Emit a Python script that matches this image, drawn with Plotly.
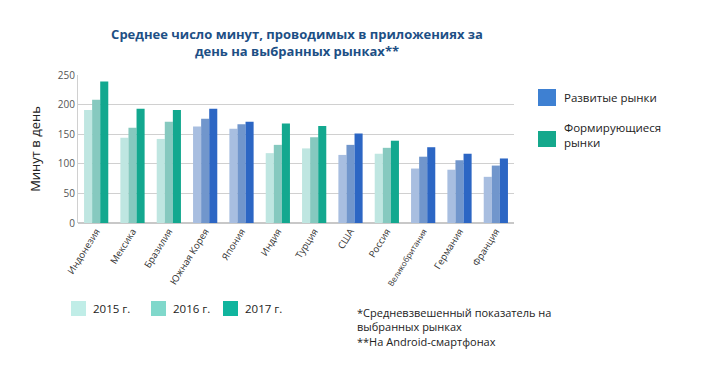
import plotly.graph_objects as go

countries = ["Индонезия", "Мексика", "Бразилия", "Южная Корея", "Япония", "Индия",
             "Турция", "США", "Россия", "Великобритания", "Германия", "Франция"]
market_type = ["em", "em", "em", "dev", "dev", "em", "em", "dev", "em", "dev", "dev", "dev"]
v2015 = [191, 144, 142, 163, 159, 118, 126, 115, 117, 92, 90, 78]
v2016 = [208, 161, 171, 176, 167, 132, 145, 132, 127, 112, 106, 97]
v2017 = [239, 193, 191, 193, 171, 168, 164, 151, 139, 128, 117, 109]
years = ["2015 г.", "2016 г.", "2017 г."]
market_labels = ["Развитые рынки", "Формирующиеся<br>рынки"]
y_ticks = [0, 50, 100, 150, 200, 250]

em_colors = ["#bfe6e1", "#86c9bf", "#13a88f"]
dev_colors = ["#a8bee0", "#7196cc", "#2c66c4"]
year_legend_colors = ["#c0ede7", "#80d8cb", "#10b59e"]
market_legend_colors = ["#3e80d2", "#15a88c"]

FONT = "Open Sans"
# page body has an 8px default margin: figure is 700x381 placed at (8, 8)
W, H = 700, 381
PL, PT, PR, PB = 70, 67, 506, 215   # plot area in figure pixels
PW, PH = PR - PL, PB - PT


def px(xabs):
    return (xabs - 8 - PL) / PW


def py(yabs):
    return (PB - (yabs - 8)) / PH


fig = go.Figure()
for i, vals in enumerate([v2015, v2016, v2017]):
    cols = [em_colors[i] if m == "em" else dev_colors[i] for m in market_type]
    fig.add_trace(go.Bar(x=countries, y=vals, name=years[i], marker=dict(color=cols, line=dict(width=0)),
                         showlegend=False))

ticktext = [('<span style="font-size:8px">%s</span>' % c) if c == "Великобритания" else c for c in countries]

fig.update_layout(
    width=W, height=H,
    margin=dict(l=PL, r=W - PR, t=PT, b=H - PB, autoexpand=False),
    paper_bgcolor="white", plot_bgcolor="white",
    barmode="group", bargap=0.333, bargroupgap=0,
    font=dict(family=FONT, color="#333333"),
    title=dict(text="<b>Среднее число минут, проводимых в приложениях за<br>день на выбранных рынках**</b>",
               x=289 / W, xanchor="center", y=1 - 31 / H, yanchor="middle",
               font=dict(size=13, color="#1d4f85", family=FONT), automargin=False),
    xaxis=dict(tickvals=countries, ticktext=ticktext, tickangle=-58, automargin=False,
               tickfont=dict(size=9.5, color="#333333"), showgrid=False, ticks=""),
    yaxis=dict(range=[0, 250], tickvals=y_ticks, gridcolor="#d0d0d0", gridwidth=1, automargin=False,
               tickfont=dict(size=10, color="#555555"), ticks="", zeroline=True, zerolinecolor="#c8c8c8",
               showline=True, linecolor="#d0d0d0",
               title=dict(text="Минут в день", font=dict(size=13, color="#222222"), standoff=14)),
)

# bottom legend (years)
sq_x = [71, 151, 223]
for i, y in enumerate(years):
    fig.add_shape(type="rect", xref="paper", yref="paper",
                  x0=px(sq_x[i]), x1=px(sq_x[i] + 15),
                  y0=py(316), y1=py(301),
                  fillcolor=year_legend_colors[i], line=dict(width=0))
    fig.add_annotation(xref="paper", yref="paper", x=px(sq_x[i] + 20), y=py(308),
                       text=y, showarrow=False, xanchor="left", yanchor="middle",
                       font=dict(size=11.5, color="#222222"))

# right legend (market types)
sq_y = [(89, 106), (131, 147)]
txt_y = [97, 135]
for i, lab in enumerate(market_labels):
    fig.add_shape(type="rect", xref="paper", yref="paper",
                  x0=px(538), x1=px(556),
                  y0=py(sq_y[i][1]), y1=py(sq_y[i][0]),
                  fillcolor=market_legend_colors[i], line=dict(width=0))
    fig.add_annotation(xref="paper", yref="paper", x=px(562), y=py(txt_y[i]),
                       text=lab, showarrow=False, xanchor="left", yanchor="middle", align="left",
                       font=dict(size=11.5, color="#222222"))

# footnote
fig.add_annotation(xref="paper", yref="paper", x=px(355), y=py(303),
                   text="*Средневзвешенный показатель на<br>выбранных рынках<br>**На Android-смартфонах",
                   showarrow=False, xanchor="left", yanchor="top", align="left",
                   font=dict(size=11, color="#222222"))

fig.write_html("out.html")
